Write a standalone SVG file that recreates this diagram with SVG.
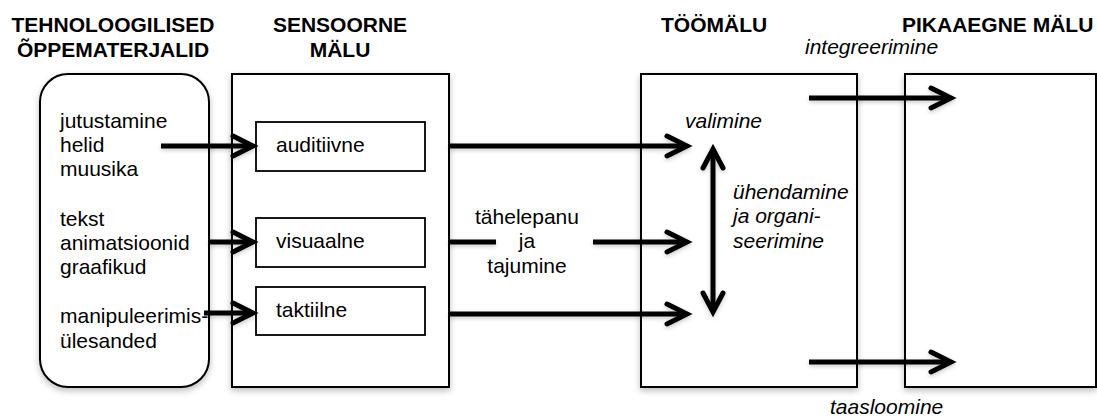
<svg xmlns="http://www.w3.org/2000/svg" width="1097" height="418" viewBox="0 0 1097 418">
<defs>
<filter id="sh" x="-10%" y="-10%" width="120%" height="125%">
<feDropShadow dx="0" dy="3" stdDeviation="3" flood-color="#000" flood-opacity="0.25"/>
</filter>
<filter id="ash" x="-10%" y="-50%" width="120%" height="200%">
<feDropShadow dx="0" dy="2" stdDeviation="2" flood-color="#000" flood-opacity="0.2"/>
</filter>
</defs>
<style>
text{font-family:"Liberation Sans",Arial,sans-serif;font-size:21px;fill:#000}
.h{font-weight:bold}
.i{font-style:italic}
.c{text-anchor:middle}
.box{fill:#fff;stroke:#000;stroke-width:2}
.inner{fill:#fff;stroke:#000;stroke-width:1.8}
.ln{fill:none;stroke:#000;stroke-width:5}
.hd{fill:none;stroke:#000;stroke-width:5;stroke-linecap:round;stroke-linejoin:miter;stroke-miterlimit:10}
</style>
<rect width="1097" height="418" fill="#fff"/>

<g id="headers">
<text class="h c" x="113" y="32">TEHNOLOOGILISED</text>
<text class="h c" x="113" y="57">ÕPPEMATERJALID</text>
<text class="h c" x="340" y="32">SENSOORNE</text>
<text class="h c" x="340" y="57">MÄLU</text>
<text class="h" x="661" y="32">TÖÖMÄLU</text>
<text class="h" x="902" y="32">PIKAAEGNE MÄLU</text>
</g>

<g id="materials">
<rect class="box" x="40" y="74" width="169" height="313" rx="28" ry="28" filter="url(#sh)"/>
<text x="60" y="128">jutustamine</text>
<text x="60" y="152">helid</text>
<text x="60" y="176">muusika</text>
<text x="60" y="226">tekst</text>
<text x="60" y="250">animatsioonid</text>
<text x="60" y="274">graafikud</text>
<text x="60" y="323">manipuleerimis-</text>
<text x="60" y="348">ülesanded</text>
</g>

<g id="sensory">
<rect class="box" x="232" y="74" width="217" height="313" filter="url(#sh)"/>
</g>

<g id="working">
<rect class="box" x="641" y="74" width="216" height="313" filter="url(#sh)"/>
</g>

<g id="longterm">
<rect class="box" x="905" y="74" width="191" height="313" filter="url(#sh)"/>
</g>

<g id="auditiivne">
<rect class="inner" x="256" y="122" width="169" height="49"/>
<text x="276" y="152">auditiivne</text>
</g>
<g id="visuaalne">
<rect class="inner" x="256" y="218" width="169" height="49"/>
<text x="276" y="248">visuaalne</text>
</g>
<g id="taktiilne">
<rect class="inner" x="256" y="287" width="169" height="48"/>
<text x="276" y="317">taktiilne</text>
</g>

<g id="connectors" filter="url(#ash)">
<path class="ln" d="M161,146 H251"/>
<path class="hd" d="M233,136 L253,146 L233,156"/>
<path class="ln" d="M209,242 H251"/>
<path class="hd" d="M233,232 L253,242 L233,252"/>
<path class="ln" d="M204,313 H251"/>
<path class="hd" d="M233,303 L253,313 L233,323"/>

<path class="ln" d="M449,146 H685"/>
<path class="hd" d="M667,136 L687,146 L667,156"/>
<path class="ln" d="M449,242 H496 M593,242 H685"/>
<path class="hd" d="M667,232 L687,242 L667,252"/>
<path class="ln" d="M449,314 H685"/>
<path class="hd" d="M667,304 L687,314 L667,324"/>

<path class="ln" d="M713,151 V310"/>
<path class="hd" d="M703,168 L713,149 L723,168"/>
<path class="hd" d="M703,293 L713,312 L723,293"/>

<path class="ln" d="M809,98 H949"/>
<path class="hd" d="M931,88 L951,98 L931,108"/>
<path class="ln" d="M809,362 H949"/>
<path class="hd" d="M931,352 L951,362 L931,372"/>
</g>

<g id="labels">
<text class="c" x="527" y="224">tähelepanu</text>
<text class="c" x="527" y="248">ja</text>
<text class="c" x="527" y="273">tajumine</text>
<text class="i" x="685" y="128">valimine</text>
<text class="i" x="733" y="199">ühendamine</text>
<text class="i" x="733" y="223">ja organi-</text>
<text class="i" x="733" y="248">seerimine</text>
<text class="i" x="805" y="54">integreerimine</text>
<text class="i" x="830" y="414">taasloomine</text>
</g>
</svg>
